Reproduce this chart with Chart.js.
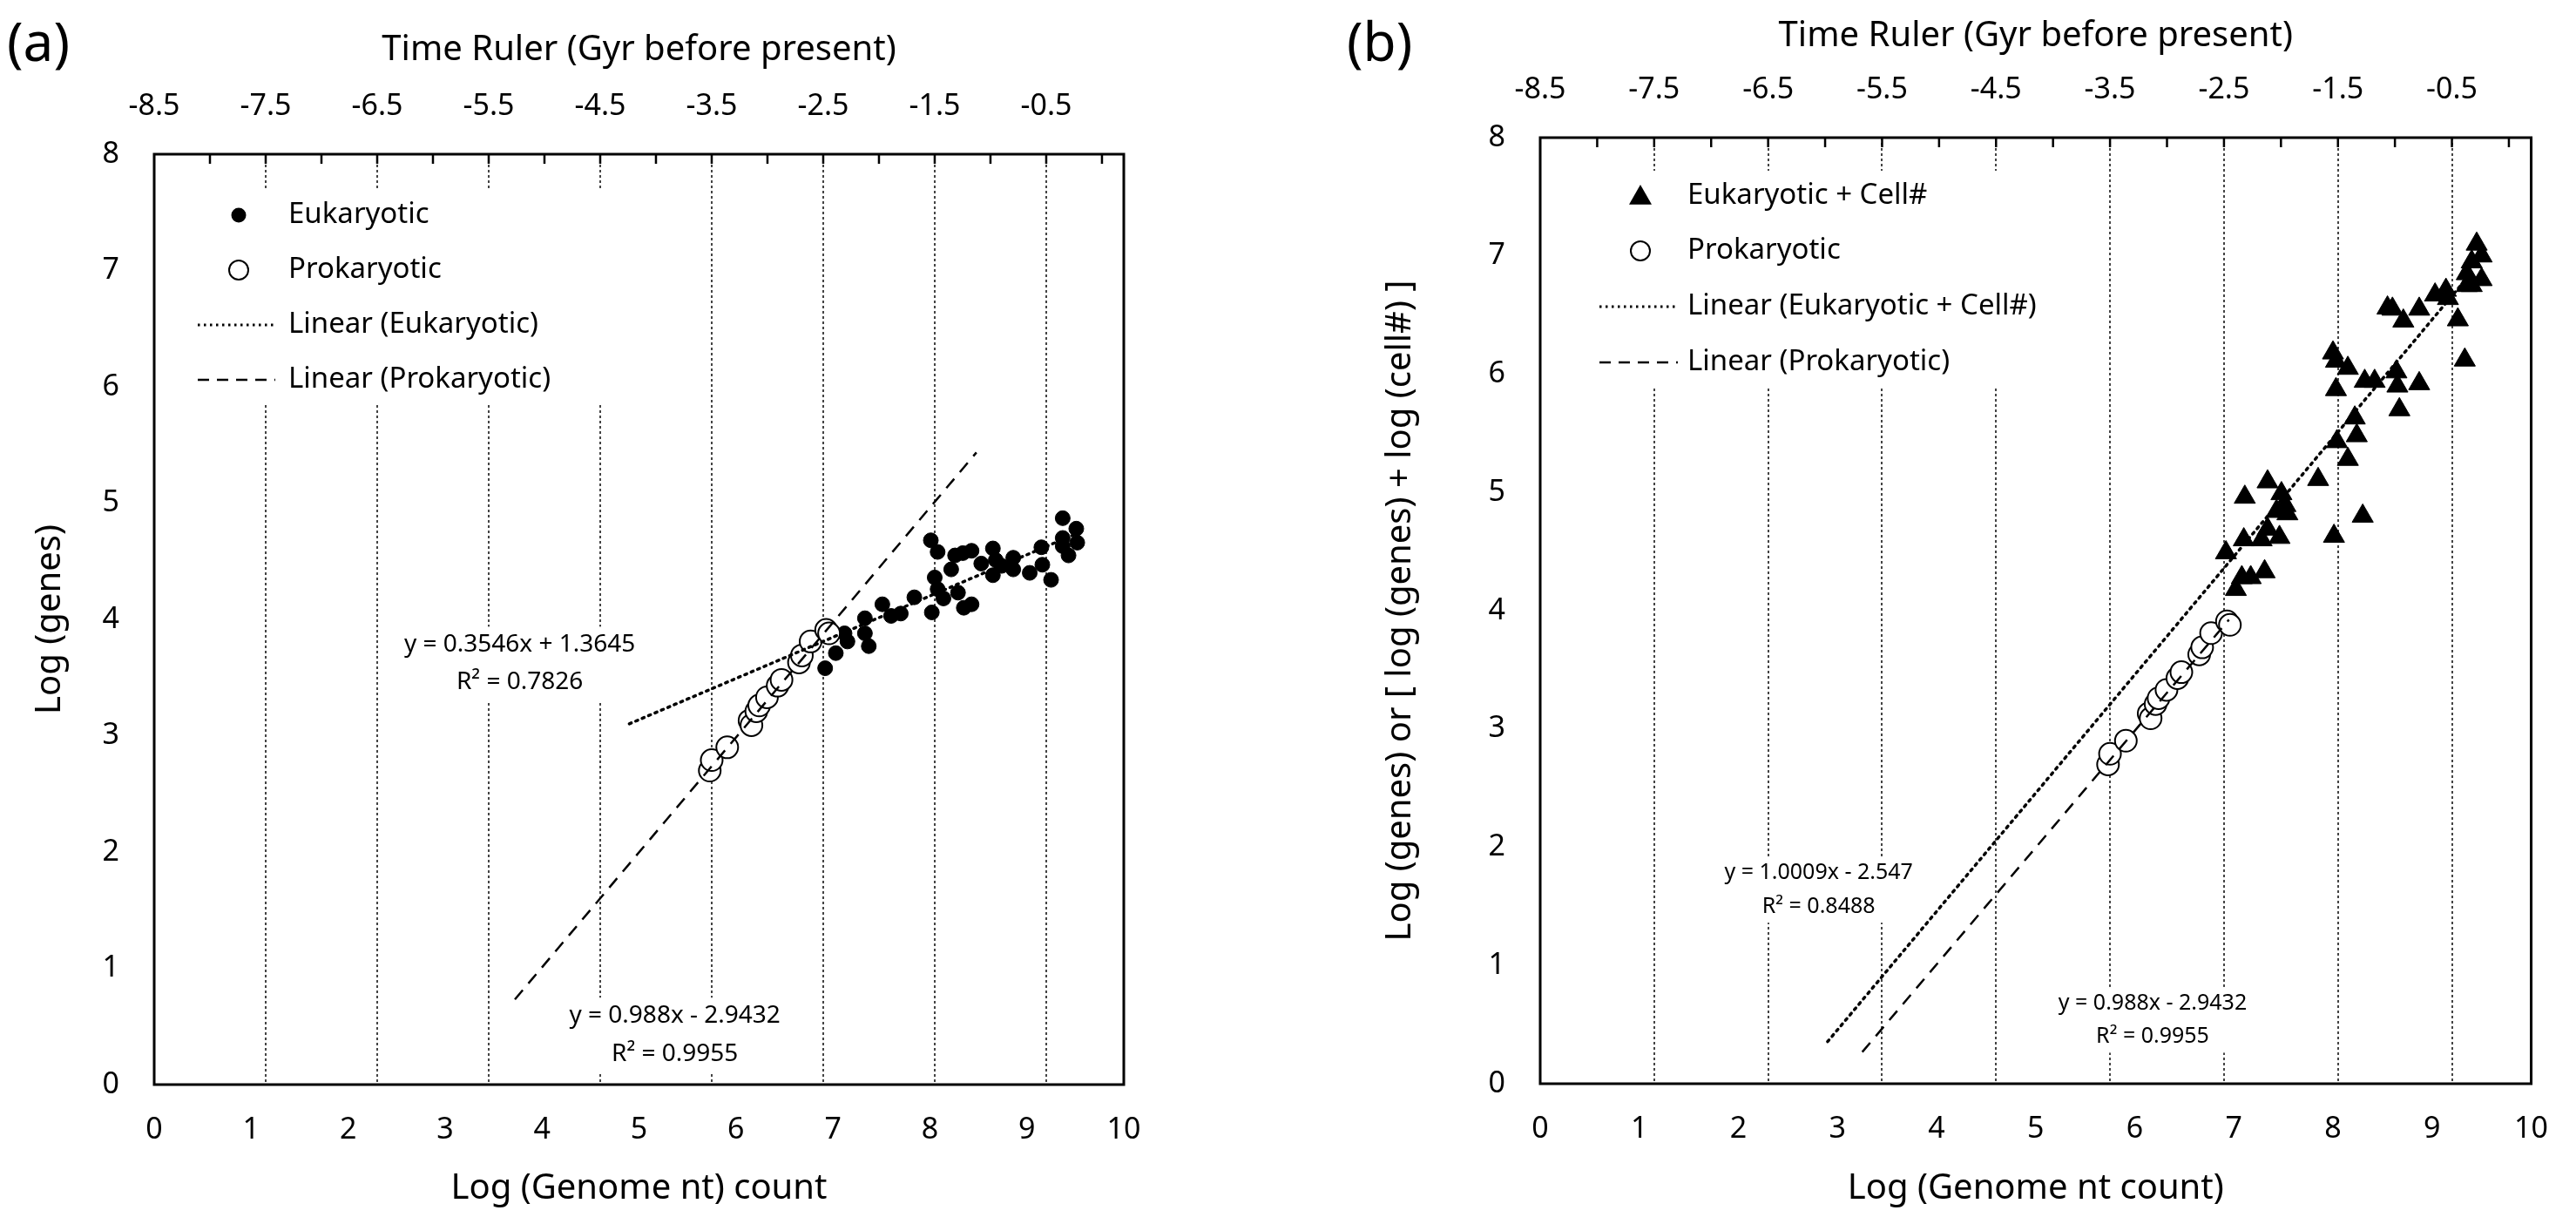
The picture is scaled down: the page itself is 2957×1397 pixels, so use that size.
<!DOCTYPE html>
<html>
<head>
<meta charset="utf-8">
<script src="https://cdn.jsdelivr.net/npm/chart.js@4.4.1/dist/chart.umd.min.js"></script>
<style>
  body { margin: 0; background: #fff; }
  .panel { position: absolute; top: 0; height: 1397px; }
  #pa { left: 0; width: 1478px; }
  #pb { left: 1478px; width: 1479px; }
  .tag { position: absolute; top: 4px; font: 62px "Noto Sans", sans-serif; color: #000; }
</style>
</head>
<body>
<div class="panel" id="pa"><canvas id="chartA"></canvas></div>
<div class="panel" id="pb"><canvas id="chartB"></canvas></div>
<div class="tag" style="left:8px">(a)</div>
<div class="tag" style="left:1546px">(b)</div>
<script>
// top "time ruler" axis: positions on the genome axis and their labels
const timePos = [0, 1.15, 2.3, 3.45, 4.6, 5.75, 6.9, 8.05, 9.2];
const timeLabels = ['-8.5', '-7.5', '-6.5', '-5.5', '-4.5', '-3.5', '-2.5', '-1.5', '-0.5'];

// prokaryotic genomes (same in both panels)
const prokX = [5.73, 5.75, 5.91, 6.14, 6.16, 6.21, 6.24, 6.32, 6.43, 6.47, 6.65, 6.68, 6.77, 6.93, 6.96];
const prokY = [2.70, 2.79, 2.90, 3.13, 3.09, 3.21, 3.26, 3.33, 3.43, 3.48, 3.63, 3.69, 3.81, 3.91, 3.88];

// panel a: eukaryotic log(genes)
const eukX = [6.92, 7.03, 7.12, 7.15, 7.33, 7.37, 7.33, 7.51, 7.60, 7.70, 7.84, 8.01, 8.08, 8.02, 8.05, 8.08, 8.14,
  8.22, 8.26, 8.29, 8.35, 8.43, 8.43, 8.34, 8.53, 8.65, 8.65, 8.68, 8.74, 8.86, 8.86, 9.03, 9.15, 9.16, 9.25,
  9.37, 9.51, 9.37, 9.52, 9.43, 9.37];
const eukY = [3.58, 3.71, 3.88, 3.81, 4.01, 3.77, 3.88, 4.13, 4.03, 4.05, 4.19, 4.68, 4.58, 4.06, 4.36, 4.26, 4.18,
  4.43, 4.55, 4.23, 4.10, 4.13, 4.59, 4.57, 4.48, 4.61, 4.38, 4.51, 4.46, 4.53, 4.43, 4.40, 4.62, 4.47, 4.34,
  4.87, 4.78, 4.70, 4.66, 4.55, 4.63];

// panel b: eukaryotic log(genes) + log(cell#)
const cellX = [6.92, 7.02, 7.08, 7.17, 7.10, 7.28, 7.31, 7.11, 7.34, 7.34, 7.43, 7.46, 7.48, 7.52, 7.54, 7.85,
  8.01, 8.30, 8.00, 8.03, 8.15, 8.03, 8.04, 8.15, 8.22, 8.24, 8.32, 8.42, 8.64, 8.65, 8.67, 8.87, 8.55, 8.60,
  8.71, 8.87, 9.03, 9.14, 9.16, 9.26, 9.33, 9.35, 9.40, 9.45, 9.50, 9.40, 9.50, 9.35];
const cellY = [4.49, 4.18, 4.28, 4.28, 4.60, 4.60, 4.33, 4.96, 5.09, 4.69, 4.84, 4.62, 4.99, 4.89, 4.82, 5.11,
  4.63, 4.80, 6.18, 6.11, 6.05, 5.87, 5.43, 5.28, 5.63, 5.48, 5.94, 5.94, 6.02, 5.90, 5.70, 5.92, 6.56, 6.55,
  6.45, 6.55, 6.67, 6.71, 6.64, 6.46, 6.12, 6.85, 6.95, 7.10, 7.00, 6.75, 6.80, 6.75];

// trendlines: slope, intercept and x-range as printed / drawn
const fitEukA = { m: 0.3546, b: 1.3645, x: [4.9, 9.5] };
const fitProkA = { m: 0.988, b: -2.9432, x: [3.72, 8.48] };
const fitCellB = { m: 1.0009, b: -2.547, x: [2.9, 9.3] };
const fitProkB = { m: 0.988, b: -2.9432, x: [3.25, 6.95] };

const FONT = '"Noto Sans", sans-serif';
Chart.defaults.font.family = FONT;
Chart.defaults.color = '#000';

function pts(xs, ys) { return xs.map((x, i) => ({ x: x, y: ys[i] })); }
function fitPts(f) { return f.x.map(x => ({ x: x, y: f.m * x + f.b })); }

function frame(o) {
  return {
    id: 'frame',
    beforeDatasetsDraw(chart) {
      const c = chart.ctx, a = chart.chartArea;
      const sx = chart.scales.x, sy = chart.scales.y;
      c.save();
      c.fillStyle = '#fff';
      // legend and equation backgrounds hide the grid
      c.fillRect(a.left + 3, o.legendTop, o.legendRight - a.left, o.legendBottom - o.legendTop);
      o.eqs.forEach(e => {
        const px = sx.getPixelForValue(e.x);
        c.fillRect(px - e.w / 2, sy.getPixelForValue(e.y1) - e.size * 0.75, e.w, sy.getPixelForValue(e.y2) - sy.getPixelForValue(e.y1) + e.size * 1.5);
      });
      c.restore();
    },
    afterDatasetsDraw(chart) {
      const c = chart.ctx, a = chart.chartArea;
      const sx = chart.scales.x, sy = chart.scales.y;
      c.save();
      c.strokeStyle = '#000';
      c.lineWidth = 3;
      c.strokeRect(a.left, a.top, a.right - a.left, a.bottom - a.top);
      // inward tick marks of the time ruler
      c.lineWidth = 2.5;
      for (let k = 1; k < 18; k++) {
        const px = sx.getPixelForValue(k * 0.575);
        c.beginPath(); c.moveTo(px, a.top); c.lineTo(px, a.top + 11); c.stroke();
      }
      // legend
      c.textBaseline = 'middle';
      c.font = o.legendFont + 'px ' + FONT;
      o.legend.forEach((it, i) => {
        const y = o.rowY[i];
        c.fillStyle = '#000';
        if (it.kind === 'dot') {
          c.beginPath(); c.arc(o.markX, y, 8.5, 0, Math.PI * 2); c.fill();
        } else if (it.kind === 'tri') {
          const r = 13;
          c.beginPath(); c.moveTo(o.markX, y - r); c.lineTo(o.markX + r, y + r * 0.75); c.lineTo(o.markX - r, y + r * 0.75); c.closePath(); c.fill();
        } else if (it.kind === 'circ') {
          c.beginPath(); c.arc(o.markX, y, 11, 0, Math.PI * 2); c.fillStyle = '#fff'; c.fill(); c.lineWidth = 2; c.stroke();
        } else {
          c.lineWidth = it.kind === 'dot-line' ? 3 : 2.5;
          c.setLineDash(it.kind === 'dot-line' ? [2.5, 4.5] : [13, 9]);
          c.beginPath(); c.moveTo(o.lineX[0], y); c.lineTo(o.lineX[1], y); c.stroke();
          c.setLineDash([]);
        }
        c.fillStyle = '#000';
        c.textAlign = 'left';
        c.fillText(it.text, o.textX, y);
      });
      // trendline equations
      c.textAlign = 'center';
      o.eqs.forEach(e => {
        c.font = e.size + 'px ' + FONT;
        const px = sx.getPixelForValue(e.x);
        c.fillText(e.l1, px, sy.getPixelForValue(e.y1));
        c.fillText(e.l2, px, sy.getPixelForValue(e.y2));
      });
      c.restore();
    }
  };
}

function makeChart(id, cfg) {
  const lineStyle = (dotted) => ({
    type: 'line', showLine: true, pointRadius: 0, borderColor: '#000', fill: false, order: 0,
    borderWidth: dotted ? 3.5 : 2.5, borderDash: dotted ? [2.5, 5.5] : [14, 10], borderCapStyle: dotted ? 'round' : 'butt'
  });
  return new Chart(document.getElementById(id), {
    type: 'scatter',
    data: {
      datasets: [
        Object.assign({ data: fitPts(cfg.fitE) }, lineStyle(true)),
        Object.assign({ data: fitPts(cfg.fitP) }, lineStyle(false)),
        { data: cfg.euk, pointStyle: cfg.eukStyle, pointRadius: cfg.eukR, pointBackgroundColor: '#000', pointBorderColor: '#000', pointBorderWidth: 1, order: 2 },
        { data: pts(prokX, prokY), pointStyle: 'circle', pointRadius: 12.5, pointBackgroundColor: '#fff', pointBorderColor: '#000', pointBorderWidth: 2, order: 1 }
      ]
    },
    options: {
      responsive: true, maintainAspectRatio: false, animation: false,
      layout: { padding: { left: 0, top: 0, bottom: 0, right: cfg.right } },
      plugins: { legend: { display: false }, tooltip: { enabled: false } },
      scales: {
        x: {
          type: 'linear', position: 'bottom', min: 0, max: 10,
          ticks: { stepSize: 1, padding: 32, font: { size: 34 } },
          grid: { display: false, drawTicks: false }, border: { display: false },
          title: { display: true, text: cfg.xTitle, font: { size: 40 }, padding: { top: 0, bottom: 8 } },
          afterFit: s => { s.height = cfg.bottomH; }
        },
        x2: {
          type: 'linear', position: 'top', min: 0, max: 10,
          afterBuildTicks: s => { s.ticks = timePos.map(v => ({ value: v })); },
          ticks: { padding: 34, font: { size: 34 }, callback: (v, i) => timeLabels[i] },
          grid: {
            drawTicks: false, lineWidth: 2,
            color: ctx => (ctx.tick && ctx.tick.value === 0) ? 'rgba(0,0,0,0)' : '#444'
          },
          border: { display: false, dash: [3, 3] },
          title: { display: true, text: 'Time Ruler (Gyr before present)', font: { size: 40 }, padding: { top: cfg.topTitlePad, bottom: 0 } },
          afterFit: s => { s.height = cfg.topH; }
        },
        y: {
          min: 0, max: 8,
          ticks: { stepSize: 1, padding: 40, font: { size: 34 } },
          grid: { display: false, drawTicks: false }, border: { display: false },
          title: { display: true, text: cfg.yTitle, font: { size: 40 }, padding: { top: cfg.yTitlePad, bottom: 0 } },
          afterFit: s => { s.width = cfg.leftW; }
        }
      }
    },
    plugins: [frame(cfg.frame)]
  });
}

makeChart('chartA', {
  euk: pts(eukX, eukY), eukStyle: 'circle', eukR: 8.5,
  fitE: fitEukA, fitP: fitProkA,
  right: 188, leftW: 177, topH: 177, bottomH: 152, topTitlePad: 34, yTitlePad: 34,
  xTitle: 'Log (Genome nt) count', yTitle: 'Log (genes)',
  frame: {
    legendTop: 217, legendBottom: 464, legendRight: 700,
    markX: 274, textX: 331, lineX: [227, 316], rowY: [247, 310, 373, 436], legendFont: 33,
    legend: [
      { kind: 'dot', text: 'Eukaryotic' }, { kind: 'circ', text: 'Prokaryotic' },
      { kind: 'dot-line', text: 'Linear (Eukaryotic)' }, { kind: 'dash-line', text: 'Linear (Prokaryotic)' }
    ],
    eqs: [
      { x: 3.77, y1: 3.78, y2: 3.46, l1: 'y = 0.3546x + 1.3645', l2: 'R² = 0.7826', size: 28, w: 300 },
      { x: 5.37, y1: 0.59, y2: 0.26, l1: 'y = 0.988x - 2.9432', l2: 'R² = 0.9955', size: 28, w: 280 }
    ]
  }
});

makeChart('chartB', {
  euk: pts(cellX, cellY), eukStyle: 'triangle', eukR: 14,
  fitE: fitCellB, fitP: fitProkB,
  right: 33, leftW: 290, topH: 158, bottomH: 153, topTitlePad: 18, yTitlePad: 106,
  xTitle: 'Log (Genome nt count)', yTitle: 'Log (genes) or [ log (genes) + log (cell#) ]',
  frame: {
    legendTop: 196, legendBottom: 446, legendRight: 2310 - 1478,
    markX: 405, textX: 459, lineX: [358, 448], rowY: [225, 288, 352, 416], legendFont: 33,
    legend: [
      { kind: 'tri', text: 'Eukaryotic + Cell#' }, { kind: 'circ', text: 'Prokaryotic' },
      { kind: 'dot-line', text: 'Linear (Eukaryotic + Cell#)' }, { kind: 'dash-line', text: 'Linear (Prokaryotic)' }
    ],
    eqs: [
      { x: 2.81, y1: 1.78, y2: 1.50, l1: 'y = 1.0009x - 2.547', l2: 'R² = 0.8488', size: 25, w: 250 },
      { x: 6.18, y1: 0.68, y2: 0.40, l1: 'y = 0.988x - 2.9432', l2: 'R² = 0.9955', size: 25, w: 250 }
    ]
  }
});
</script>
</body>
</html>
